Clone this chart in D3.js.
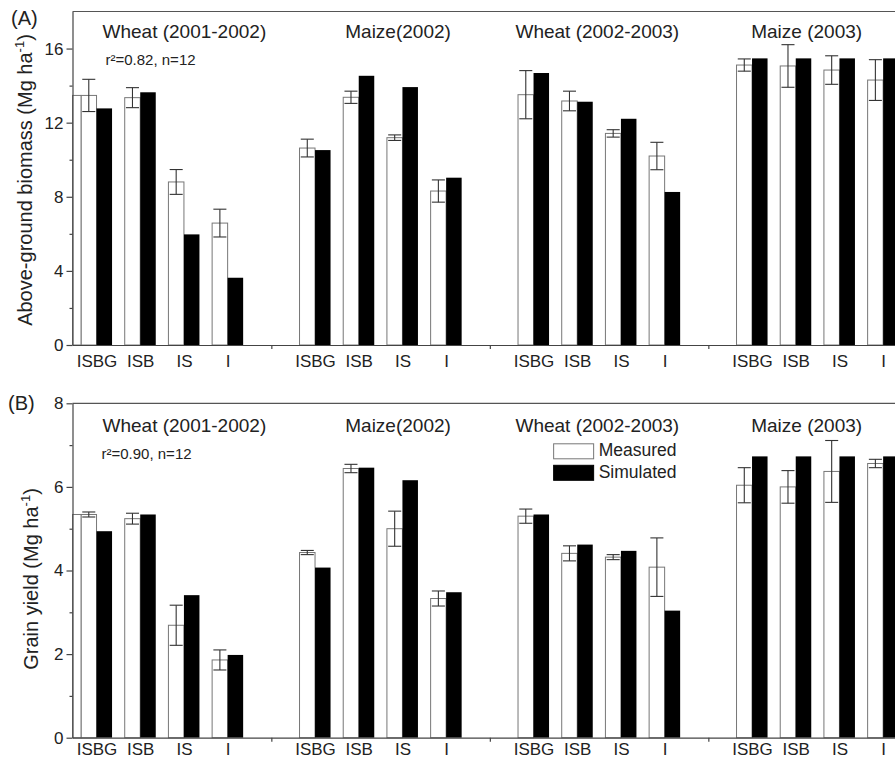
<!DOCTYPE html>
<html>
<head>
<meta charset="utf-8">
<script src="https://cdn.jsdelivr.net/npm/d3@7"></script>
<style>
  body { margin: 0; background: #fff; }
  svg { font-family: "Liberation Sans", Arial, sans-serif; display: block; }
</style>
</head>
<body>
<svg id="chart" width="895" height="758"></svg>
<script>
  // data
  var groups = ['Wheat (2001-2002)', 'Maize(2002)', 'Wheat (2002-2003)', 'Maize (2003)'];
  var treatments = ['ISBG', 'ISB', 'IS', 'I'];

  // (A) above-ground biomass, Mg/ha
  var biomassMeasured = [13.47, 13.35, 8.80, 6.58, 10.63, 13.37, 11.19, 8.31, 13.51, 13.17, 11.42, 10.20, 15.11, 15.06, 14.84, 14.30];
  var biomassErr = [0.87, 0.54, 0.67, 0.75, 0.48, 0.33, 0.15, 0.60, 1.30, 0.53, 0.20, 0.74, 0.33, 1.15, 0.77, 1.10];
  var biomassSimulated = [12.77, 13.64, 5.97, 3.63, 10.52, 14.53, 13.92, 9.03, 14.68, 13.13, 12.21, 8.26, 15.47, 15.47, 15.47, 15.47];
  var biomassTicks = [0, 4, 8, 12, 16];
  var biomassMinor = [2, 6, 10, 14];

  // (B) grain yield, Mg/ha
  var yieldMeasured = [5.34, 5.24, 2.69, 1.86, 4.43, 6.44, 5.00, 3.33, 5.30, 4.41, 4.32, 4.08, 6.04, 6.00, 6.37, 6.56];
  var yieldErr = [0.06, 0.13, 0.48, 0.24, 0.05, 0.10, 0.42, 0.18, 0.17, 0.18, 0.06, 0.70, 0.42, 0.39, 0.74, 0.10];
  var yieldSimulated = [4.94, 5.34, 3.41, 1.98, 4.07, 6.46, 6.16, 3.48, 5.34, 4.62, 4.47, 3.04, 6.73, 6.73, 6.73, 6.73];
  var yieldTicks = [0, 2, 4, 6, 8];
  var yieldMinor = [1, 3, 5, 7];

  var seriesNames = ['Measured', 'Simulated'];
  ////

  var svg = d3.select('#chart');
  var left = 72.5;
  var ink = '#222';

  // one slot per treatment, plus an empty slot between crops
  var x = d3.scaleLinear().domain([-0.55, 19.5]).range([left, left + 20.05 * 43.7]);
  var bw = x(0.355) - x(0);
  var slotOf = i => Math.floor(i / 4) * 5 + (i % 4);
  var titleSlots = [2.01, 6.9, 11.46, 16.25];

  function panel(cfg) {
    var y = d3.scaleLinear().domain(cfg.domain).range(cfg.range);
    var g = svg.append('g');
    var bottom = cfg.range[0], top = cfg.range[1];

    var rows = cfg.measured.map((m, i) => ({ i: i, slot: slotOf(i), m: m, e: cfg.err[i], s: cfg.sim[i] }));

    // measured (white) bars
    g.selectAll('rect.meas').data(rows).enter().append('rect')
      .attr('class', 'meas')
      .attr('x', d => x(d.slot) - bw)
      .attr('y', d => y(d.m))
      .attr('width', bw)
      .attr('height', d => bottom - y(d.m))
      .attr('fill', '#fff').attr('stroke', '#777').attr('stroke-width', 1);

    // the first white bar runs on to the axis in the original
    g.selectAll('rect.pad').data(rows.filter(d => d.slot === 0)).enter().append('rect')
      .attr('x', left)
      .attr('y', d => y(d.m))
      .attr('width', d => x(d.slot) - bw - left)
      .attr('height', d => bottom - y(d.m))
      .attr('fill', '#fff').attr('stroke', '#777').attr('stroke-width', 1);

    // simulated (black) bars
    g.selectAll('rect.sim').data(rows).enter().append('rect')
      .attr('x', d => x(d.slot))
      .attr('y', d => y(d.s))
      .attr('width', bw)
      .attr('height', d => bottom - y(d.s))
      .attr('fill', '#000');

    // error bars
    var cap = bw * 0.42;
    var eb = g.selectAll('g.err').data(rows).enter().append('g')
      .attr('transform', d => 'translate(' + (x(d.slot) - bw / 2) + ',0)')
      .attr('stroke', '#333').attr('stroke-width', 1.1);
    eb.append('line').attr('y1', d => y(d.m + d.e)).attr('y2', d => y(d.m - d.e));
    eb.append('line').attr('x1', -cap).attr('x2', cap).attr('y1', d => y(d.m + d.e)).attr('y2', d => y(d.m + d.e));
    eb.append('line').attr('x1', -cap).attr('x2', cap).attr('y1', d => y(d.m - d.e)).attr('y2', d => y(d.m - d.e));

    // frame top
    g.append('line').attr('x1', left).attr('x2', 900).attr('y1', top).attr('y2', top)
      .attr('stroke', '#555').attr('stroke-width', 1.2);

    // y axis
    var ya = g.append('g').attr('transform', 'translate(' + left + ',0)')
      .call(d3.axisLeft(y).tickValues(cfg.ticks).tickSize(6).tickSizeOuter(0).tickPadding(3));
    g.append('g').attr('transform', 'translate(' + left + ',0)')
      .call(d3.axisLeft(y).tickValues(cfg.minor).tickSize(3).tickFormat('').tickSizeOuter(0))
      .select('.domain').remove();
    g.selectAll('.tick line, .domain').attr('stroke', '#444').attr('stroke-width', 1.2);
    ya.selectAll('text').attr('font-size', 17).attr('fill', ink);

    // x axis: treatment labels and crop separators
    var xa = g.append('g').attr('transform', 'translate(0,' + bottom + ')')
      .call(d3.axisBottom(x).tickValues(rows.map(d => d.slot))
        .tickFormat(k => treatments[k % 5]).tickSize(0).tickPadding(cfg.labelPad).tickSizeOuter(0));
    xa.select('.domain').attr('stroke', '#444').attr('stroke-width', 1.2);
    xa.selectAll('text').attr('font-size', 17).attr('fill', ink);
    g.append('g').attr('transform', 'translate(0,' + bottom + ')')
      .call(d3.axisBottom(x).tickValues([4, 9, 14, 19]).tickFormat('').tickSize(4).tickSizeOuter(0))
      .call(a => a.select('.domain').remove())
      .selectAll('line').attr('stroke', '#444').attr('stroke-width', 1.2);

    // crop titles
    g.selectAll('text.title').data(groups).enter().append('text')
      .attr('x', (d, i) => x(titleSlots[i]))
      .attr('y', cfg.titleY)
      .attr('text-anchor', 'middle')
      .attr('font-size', 19).attr('fill', ink)
      .text(d => d);

    g.append('text').attr('x', left + cfg.statDx).attr('y', cfg.statY)
      .attr('font-size', 15).attr('fill', ink).text(cfg.stat);

    // panel letter
    g.append('text').attr('x', cfg.letterX).attr('y', cfg.letterY)
      .attr('font-size', 20).attr('fill', ink).text(cfg.letter);

    // y title
    var yt = g.append('text')
      .attr('transform', 'translate(' + cfg.yTitleX + ',' + cfg.yTitleY + ') rotate(-90)')
      .attr('text-anchor', 'middle').attr('font-size', 20).attr('fill', ink);
    yt.append('tspan').text(cfg.yTitle + ' (Mg ha');
    yt.append('tspan').attr('dy', -8).attr('font-size', 13).text('-1');
    yt.append('tspan').attr('dy', 8).text(')');

    return { g: g, y: y, top: top };
  }

  panel({
    domain: [0, 18], range: [345, 11.5],
    measured: biomassMeasured, err: biomassErr, sim: biomassSimulated,
    ticks: biomassTicks, minor: biomassMinor, labelPad: 10,
    titleY: 37.5, stat: 'r²=0.82, n=12', statDx: 33, statY: 65,
    letter: '(A)', letterX: 11, letterY: 25,
    yTitle: 'Above-ground biomass', yTitleX: 32, yTitleY: 180
  });

  var pb = panel({
    domain: [0, 8], range: [737.7, 403.3],
    measured: yieldMeasured, err: yieldErr, sim: yieldSimulated,
    ticks: yieldTicks, minor: yieldMinor, labelPad: 5,
    titleY: 432, stat: 'r²=0.90, n=12', statDx: 29, statY: 459,
    letter: '(B)', letterX: 8, letterY: 410,
    yTitle: 'Grain yield', yTitleX: 38, yTitleY: 579
  });

  // legend in panel B
  var lx = x(10.46);
  var legend = pb.g.selectAll('g.legend').data(seriesNames).enter().append('g')
    .attr('transform', (d, i) => 'translate(' + lx + ',' + (pb.top + 53 + i * 21.5) + ')');
  legend.append('rect')
    .attr('y', -12.5).attr('width', 40).attr('height', 15)
    .attr('fill', (d, i) => i === 0 ? '#fff' : '#000')
    .attr('stroke', (d, i) => i === 0 ? '#777' : '#000');
  legend.append('text').attr('x', 45).attr('y', 0)
    .attr('font-size', 17.5).attr('fill', ink).text(d => d);
</script>
</body>
</html>
